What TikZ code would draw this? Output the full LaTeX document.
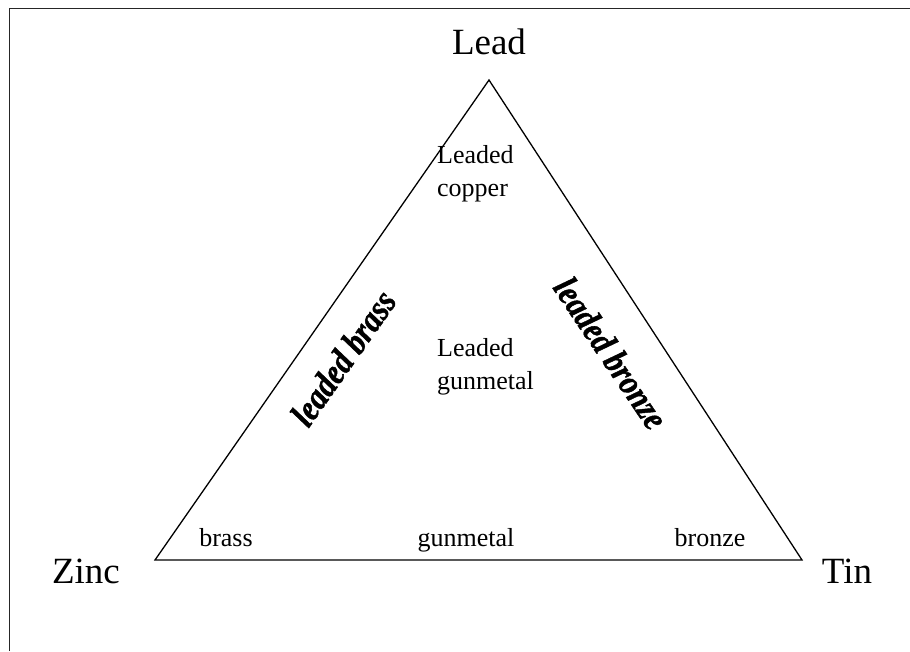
\documentclass[tikz,border=0pt]{standalone}
\usepackage{fontspec}
\setmainfont{Liberation Serif}
\newfontfamily\heavyfont{Liberation Serif}[BoldItalicFeatures={FakeBold=1.2,FakeStretch=0.85}]
\begin{document}
\begin{tikzpicture}[x=1pt,y=-1pt,
  vertexlabel/.style={font=\fontsize{37}{40}\selectfont, inner sep=0pt, anchor=base},
  regionlabel/.style={font=\fontsize{26}{33}\selectfont, inner sep=0pt, align=left},
  baselabel/.style={font=\fontsize{26}{32}\selectfont, inner sep=0pt, anchor=base},
  sidelabel/.style={font=\fontsize{36}{38}\heavyfont\bfseries\itshape, inner sep=0pt},
  frameline/.style={line width=1pt, draw=black!85},
  edge/.style={line width=1.3pt}]
\useasboundingbox (0,0) rectangle (910,651);
% frame
\coordinate (fa) at (9,651);
\coordinate (fb) at (9,8);
\coordinate (fc) at (910,8);
\draw[frameline] (fa) -- (fb) -- (fc);
% triangle
\coordinate (L) at (489,80);
\coordinate (Z) at (155,560);
\coordinate (T) at (802,560);
\draw[edge, line join=miter] (L) -- (T) -- (Z) -- cycle;
% vertex labels
\node[vertexlabel] (lead) at (489,54) {Lead};
\node[vertexlabel] (zinc) at (86,583) {Zinc};
\node[vertexlabel] (tin) at (847,583) {Tin};
% region labels
\node[regionlabel, anchor=north west] (lc) at (437,145) {Leaded\\copper};
\node[regionlabel, anchor=north west] (lg) at (437,338) {Leaded\\gunmetal};
\node[baselabel] (brass) at (226,546) {brass};
\node[baselabel] (gun) at (466,546) {gunmetal};
\node[baselabel] (bronze) at (710,546) {bronze};
% side labels
\node[sidelabel, rotate=55] (lbrass) at (343,358) {leaded brass};
\node[sidelabel, rotate=-56] (lbronze) at (611,353) {leaded bronze};
\end{tikzpicture}
\end{document}
